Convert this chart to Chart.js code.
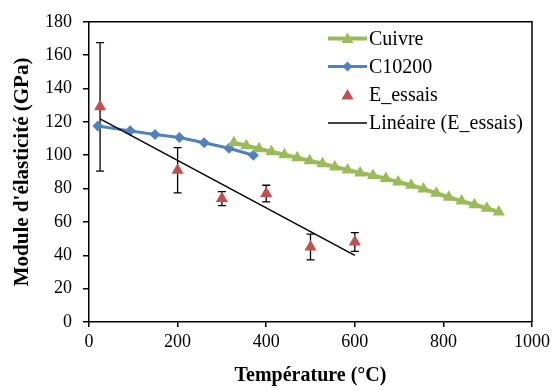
<!DOCTYPE html>
<html><head><meta charset="utf-8">
<script src="https://cdn.jsdelivr.net/npm/chart.js@4/dist/chart.umd.min.js"></script>
<style>html,body{margin:0;padding:0;background:#fff}canvas{display:block}</style>
</head><body>
<canvas id="c" width="554" height="390"></canvas>
<script>
const cuivreT = [327,355,384,412,441,470,498,527,555,584,612,641,670,698,727,755,784,812,841,870,898,925];
const cuivreE = [107.5,105.7,103.9,102.1,100.3,98.5,96.7,94.9,93.0,91.2,89.4,87.8,86.0,84.0,82.0,79.8,77.2,74.8,72.5,70.3,68.2,66.0];
const c10200T = [20,93,149,204,260,316,371];
const c10200E = [117.5,114.6,112.4,110.6,107.5,104.2,100.0];
const essaisT = [25,200,300,400,500,600];
const essaisE = [129,91,74,77,45,48];
const essaisErr = [38.5,13.6,4.2,5.0,7.7,5.6];
const trendT = [25,600];
const trendE = [121.8,40.0];
const seriesNames = ['Cuivre','C10200','E_essais','Linéaire (E_essais)'];
const xTitle = 'Température (°C)';
const yTitle = "Module d'élasticité (GPa)";
const xRange = [0,1000], xStep = 200;
const yRange = [0,180], yStep = 20;

const FAM = "'Liberation Serif','Times New Roman',serif";
const GREEN = '#9BBB59', BLUE = '#4F81BD', RED = '#C0504D';
const pts = (xs, ys) => xs.map((x,i)=>({x, y: ys[i]}));

const errorBars = {
  id:'errorBars',
  beforeDatasetsDraw(chart){
    const {ctx, scales:{x,y}} = chart;
    ctx.save();
    ctx.strokeStyle = '#000'; ctx.lineWidth = 1.3;
    essaisT.forEach((t,i)=>{
      const px = x.getPixelForValue(t);
      const top = y.getPixelForValue(essaisE[i]+essaisErr[i]);
      const bot = y.getPixelForValue(essaisE[i]-essaisErr[i]);
      ctx.beginPath();
      ctx.moveTo(px, top); ctx.lineTo(px, bot);
      ctx.moveTo(px-4, top); ctx.lineTo(px+4, top);
      ctx.moveTo(px-4, bot); ctx.lineTo(px+4, bot);
      ctx.stroke();
    });
    ctx.restore();
  }
};

function tri(ctx, x, y, r){
  ctx.beginPath();
  ctx.moveTo(x, y - r);
  ctx.lineTo(x + r*0.866, y + r*0.5);
  ctx.lineTo(x - r*0.866, y + r*0.5);
  ctx.closePath(); ctx.fill();
}
function diamond(ctx, x, y, r){
  ctx.beginPath();
  ctx.moveTo(x - r, y); ctx.lineTo(x, y - r); ctx.lineTo(x + r, y); ctx.lineTo(x, y + r);
  ctx.closePath(); ctx.fill();
}

const frameAndLegend = {
  id:'frameAndLegend',
  afterDraw(chart){
    const {ctx, chartArea:a} = chart;
    ctx.save();
    ctx.strokeStyle = '#000'; ctx.lineWidth = 1.5;
    ctx.beginPath();
    ctx.moveTo(a.left, a.top); ctx.lineTo(a.right, a.top); ctx.lineTo(a.right, a.bottom);
    ctx.stroke();
    const rows = [38.5, 66.5, 95, 123];
    const x0 = 328, x1 = 367, xm = 347.5, xt = 369;
    ctx.font = '20px ' + FAM;
    ctx.textBaseline = 'middle'; ctx.textAlign = 'left';
    ctx.strokeStyle = GREEN; ctx.lineWidth = 4;
    ctx.beginPath(); ctx.moveTo(x0, rows[0]); ctx.lineTo(x1, rows[0]); ctx.stroke();
    ctx.fillStyle = GREEN; tri(ctx, xm, rows[0]+1, 7);
    ctx.strokeStyle = BLUE; ctx.lineWidth = 3;
    ctx.beginPath(); ctx.moveTo(x0, rows[1]); ctx.lineTo(x1, rows[1]); ctx.stroke();
    ctx.fillStyle = BLUE; diamond(ctx, xm, rows[1], 5);
    ctx.fillStyle = RED; tri(ctx, xm, rows[2]+1, 7);
    ctx.strokeStyle = '#000'; ctx.lineWidth = 1.5;
    ctx.beginPath(); ctx.moveTo(x0, rows[3]); ctx.lineTo(x1, rows[3]); ctx.stroke();
    ctx.fillStyle = '#000';
    seriesNames.forEach((n,i)=>ctx.fillText(n, xt, rows[i]+1));
    ctx.restore();
  }
};

new Chart(document.getElementById('c'), {
  type:'scatter',
  data:{datasets:[
    {label:seriesNames[3], data:pts(trendT,trendE), showLine:true, borderColor:'#000', borderWidth:1.5, pointRadius:0, order:0},
    {label:seriesNames[2], data:pts(essaisT,essaisE), showLine:false, pointStyle:'triangle', pointRadius:7, backgroundColor:RED, borderColor:RED, borderWidth:0, order:1},
    {label:seriesNames[0], data:pts(cuivreT,cuivreE), showLine:true, borderColor:GREEN, borderWidth:4, pointStyle:'triangle', pointRadius:7, backgroundColor:GREEN, pointBorderColor:GREEN, pointBorderWidth:0, order:2},
    {label:seriesNames[1], data:pts(c10200T,c10200E), showLine:true, borderColor:BLUE, borderWidth:3, pointStyle:'rectRot', pointRadius:5.5, backgroundColor:BLUE, pointBorderColor:BLUE, pointBorderWidth:0, order:3}
  ]},
  options:{
    responsive:false, animation:false, devicePixelRatio:1,
    layout:{padding:{top:17,right:21,left:0,bottom:2}},
    plugins:{legend:{display:false}, tooltip:{enabled:false}},
    scales:{
      x:{type:'linear', min:xRange[0], max:xRange[1],
        afterFit(s){ s.height = 66; },
        ticks:{stepSize:xStep, font:{size:18, family:FAM}, color:'#000', padding:4, maxRotation:0, callback:v=>String(v)},
        grid:{drawOnChartArea:false, drawTicks:true, tickLength:5, color:'#000', lineWidth:1.5},
        border:{color:'#000', width:1.5},
        title:{display:true, text:xTitle, color:'#000', font:{size:20, weight:'bold', family:FAM}, padding:{top:0,bottom:0}}
      },
      y:{type:'linear', min:yRange[0], max:yRange[1],
        afterFit(s){ s.width = 89; },
        ticks:{stepSize:yStep, font:{size:18, family:FAM}, color:'#000', padding:11, callback:v=>String(v)},
        grid:{drawOnChartArea:false, drawTicks:true, tickLength:6, color:'#000', lineWidth:1.5},
        border:{color:'#000', width:1.5},
        title:{display:true, text:yTitle, color:'#000', font:{size:21, weight:'bold', family:FAM}, padding:{top:10,bottom:0}}
      }
    }
  },
  plugins:[errorBars, frameAndLegend]
});
</script>
</body></html>
